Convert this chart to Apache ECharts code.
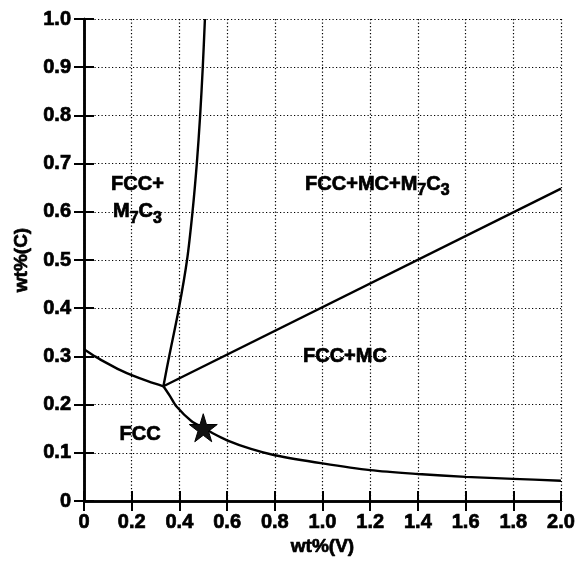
<!DOCTYPE html>
<html>
<head>
<meta charset="utf-8">
<script src="https://cdn.jsdelivr.net/npm/echarts@6/dist/echarts.min.js"></script>
<style>html,body{margin:0;padding:0;background:#fff}#c{width:585px;height:565px}</style>
</head>
<body>
<div id="c"></div>
<script>
// ---- data ----
var xTickLabels = ['0','0.2','0.4','0.6','0.8','1.0','1.2','1.4','1.6','1.8','2.0'];
var yTickLabels = ['0','0.1','0.2','0.3','0.4','0.5','0.6','0.7','0.8','0.9','1.0'];

// FCC / FCC+M7C3 boundary (left)
var leftX = [0, 0.05, 0.1, 0.15, 0.2, 0.27, 0.333];
var leftY = [0.315, 0.299, 0.285, 0.272, 0.261, 0.248, 0.238];

// FCC+M7C3 / FCC+MC+M7C3 boundary (steep)
var steepX = [0.333, 0.357, 0.398, 0.432, 0.455, 0.473, 0.487, 0.498, 0.507];
var steepY = [0.238, 0.3, 0.4, 0.5, 0.6, 0.7, 0.8, 0.9, 1.0];

// FCC+MC / FCC+MC+M7C3 boundary (straight)
var midX = [0.333, 2.0];
var midY = [0.238, 0.648];

// FCC / FCC+MC boundary (lower)
var lowX = [0.333, 0.36, 0.388, 0.45, 0.5, 0.542, 0.6, 0.7, 0.8, 1.0, 1.2, 1.4, 1.6, 1.8, 2.0];
var lowY = [0.238, 0.218, 0.196, 0.166, 0.152, 0.140, 0.126, 0.108, 0.095, 0.078, 0.064, 0.056, 0.050, 0.046, 0.042];

// star marker
var starX = [0.5];
var starY = [0.152];

// region labels
var regionText = ['FCC+', 'M{s|7}C{s|3}', 'FCC+MC+M{s|7}C{s|3}', 'FCC+MC', 'FCC'];
var regionX = [0.224, 0.224, 1.23, 1.094, 0.235];
var regionY = [0.657, 0.600, 0.657, 0.299, 0.138];

function pairs(xs, ys){ return xs.map(function(x,i){ return [x, ys[i]]; }); }

var FONT = 'Liberation Sans';
var chart = echarts.init(document.getElementById('c'), null, {renderer:'canvas'});

function lineSeries(xs, ys){
  return {
    type:'line', data: pairs(xs, ys), showSymbol:false, smooth:0.3,
    lineStyle:{color:'#000', width:2.4}, z:5, silent:true
  };
}

var starPath = 'path://M50,0 L61,35 L98,35 L68,57 L79,91 L50,70 L21,91 L32,57 L2,35 L39,35 Z';
var heavy = {fontFamily:FONT, fontWeight:'bold', color:'#000', textBorderColor:'#000', textBorderWidth:0.7};

var option = {
  animation:false,
  backgroundColor:'#fff',
  grid:{left:84, right:24, top:19, bottom:64},
  xAxis:[{
    type:'value', min:0, max:2, interval:0.2,
    name:'wt%(V)', nameLocation:'middle', nameGap:35,
    nameTextStyle:Object.assign({fontSize:19}, heavy),
    axisLine:{show:true, lineStyle:{color:'#000', width:2.5}},
    axisTick:{show:true, inside:true, length:10, lineStyle:{color:'#000', width:2}},
    axisLabel:Object.assign({margin:11, fontSize:20,
      formatter:function(v){ return xTickLabels[Math.round(v/0.2)]; }}, heavy),
    splitLine:{show:true, lineStyle:{color:'#000', width:1.2, type:[1.2,2.3]}}
  },{
    type:'value', position:'top', min:0, max:2, interval:0.2,
    axisLine:{show:true, lineStyle:{color:'#000', width:2.5}},
    axisTick:{show:true, inside:true, length:10, lineStyle:{color:'#000', width:2}},
    axisLabel:{show:false}, splitLine:{show:false}
  }],
  yAxis:[{
    type:'value', min:0, max:1, interval:0.1,
    name:'wt%(C)', nameLocation:'middle', nameGap:47,
    nameTextStyle:Object.assign({fontSize:19}, heavy),
    axisLine:{show:true, lineStyle:{color:'#000', width:2.5}},
    axisTick:{show:true, inside:true, length:10, lineStyle:{color:'#000', width:2}},
    axisLabel:Object.assign({margin:13, fontSize:20,
      formatter:function(v){ return yTickLabels[Math.round(v/0.1)]; }}, heavy),
    splitLine:{show:true, lineStyle:{color:'#000', width:1.2, type:[1.2,2.3]}}
  },{
    type:'value', position:'right', min:0, max:1, interval:0.1,
    axisLine:{show:true, lineStyle:{color:'#000', width:2.5}},
    axisTick:{show:true, inside:true, length:10, lineStyle:{color:'#000', width:2}},
    axisLabel:{show:false}, splitLine:{show:false}
  }],
  series:[
    lineSeries(leftX, leftY),
    lineSeries(steepX, steepY),
    lineSeries(midX, midY),
    lineSeries(lowX, lowY),
    {
      type:'scatter', data: pairs(starX, starY), symbol: starPath, symbolSize:28,
      itemStyle:{color:'#111', borderColor:'#000', borderWidth:1, opacity:1}, z:6, silent:true
    },
    {
      type:'scatter', symbolSize:0, silent:true, z:7,
      itemStyle:{opacity:1},
      data: regionText.map(function(t,i){ return {value:[regionX[i], regionY[i]], label:{formatter:t}}; }),
      label:Object.assign({show:true, position:'inside', fontSize:20,
        rich:{s:Object.assign({fontSize:16, padding:[13,0,0,0]}, heavy)}}, heavy)
    }
  ]
};
chart.setOption(option);
</script>
</body>
</html>
